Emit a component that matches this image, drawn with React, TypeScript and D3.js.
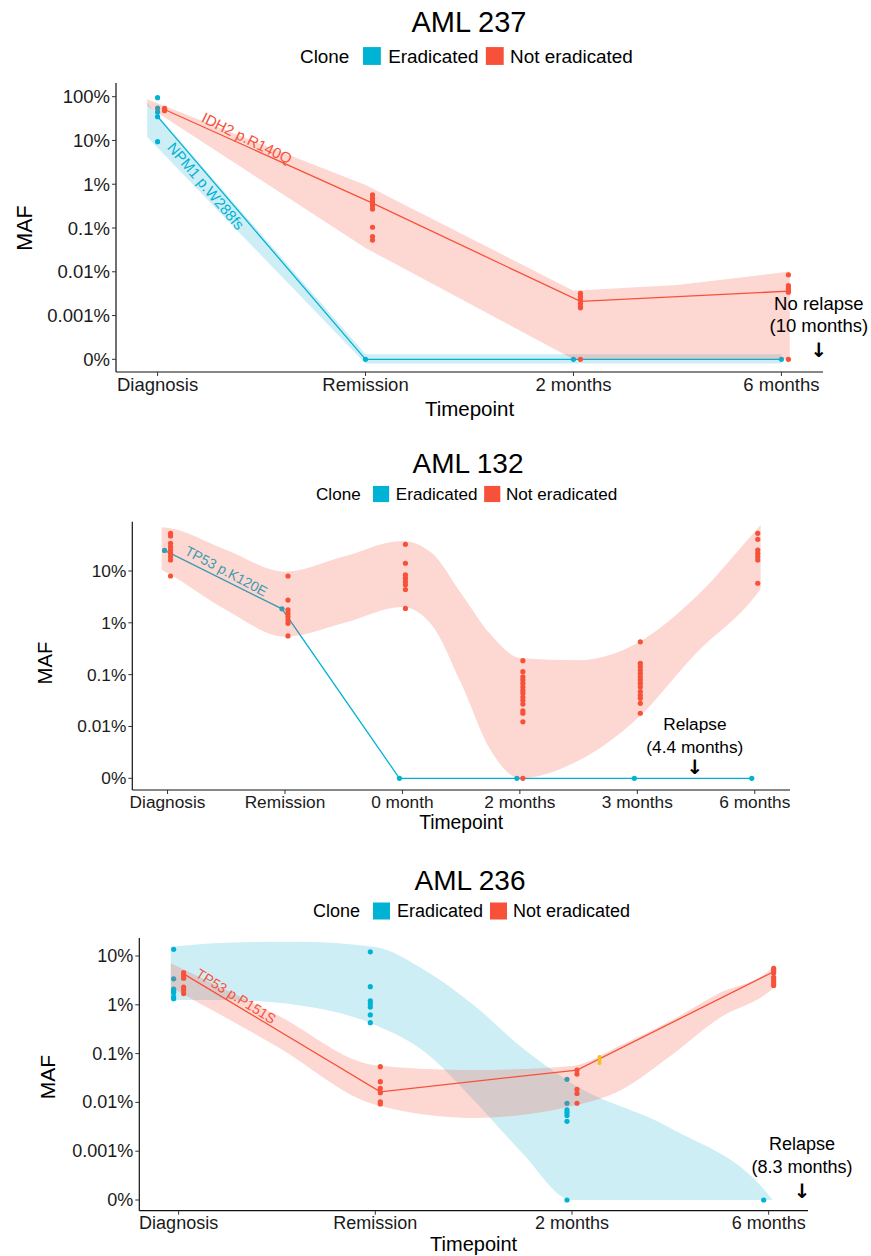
import React from "react";
import * as d3 from "d3";

const FONT = "'Liberation Sans', Arial, Helvetica, sans-serif";
const CYAN = "#00B3D5";
const RED = "#F8513A";
const YELLOW = "#F2C21B";

type Pt = [number, number]; // [timepoint index, MAF %]
type Band = [number, number, number]; // [timepoint position, lower %, upper %]

// ---------- AML 237 ----------
const aml237Timepoints = ["Diagnosis", "Remission", "2 months", "6 months"];
const aml237YTicks = [100, 10, 1, 0.1, 0.01, 0.001, 0];
const aml237YLabels = ["100%", "10%", "1%", "0.1%", "0.01%", "0.001%", "0%"];
const aml237ErPoints: Pt[] = [[0, 95], [0, 55], [0, 45], [0, 35], [0, 9.4], [1, 0], [2, 0], [3, 0]];
const aml237NePoints: Pt[] = [
  [0, 48], [0, 51], [0, 54],
  [1, 0.57], [1, 0.48], [1, 0.42], [1, 0.37], [1, 0.32], [1, 0.27], [1, 0.104], [1, 0.064], [1, 0.053],
  [2, 0.0032], [2, 0.0027], [2, 0.0023], [2, 0.0019], [2, 0.0016], [2, 0.0015], [2, 0],
  [3, 0.0085], [3, 0.0048], [3, 0.0042], [3, 0.0037], [3, 0.0034], [3, 0],
];
const aml237ErLine: Pt[] = [[0, 35], [1, 0], [2, 0], [3, 0]];
const aml237NeLine: Pt[] = [[0, 51], [1, 0.37], [2, 0.0021], [3, 0.0036]];
const aml237ErBand: Band[] = [[-0.05, 12, 72], [1, 0.00008, 0.00013], [3, 0.00008, 0.00013]];
const aml237NeBand: Band[] = [[-0.05, 61, 87], [1, 0.035, 0.96], [2, 0, 0.0037], [2.5, 0, 0.005], [3.04, 0, 0.0101]];

// ---------- AML 132 ----------
const aml132Timepoints = ["Diagnosis", "Remission", "0 month", "2 months", "3 months", "6 months"];
const aml132YTicks = [10, 1, 0.1, 0.01, 0];
const aml132YLabels = ["10%", "1%", "0.1%", "0.01%", "0%"];
const aml132ErPoints: Pt[] = [[0, 25], [1, 1.86], [2, 0], [3, 0], [4, 0], [5, 0]];
const aml132NePoints: Pt[] = [
  [0, 53.4], [0, 47.4], [0, 34.3], [0, 29.4], [0, 25.4], [0, 22], [0, 18.9], [0, 16.3], [0, 8],
  [1, 8], [1, 2.75], [1, 1.77], [1, 1.52], [1, 1.31], [1, 1.13], [1, 0.98], [1, 0.56],
  [2, 32.7], [2, 14.1], [2, 8.4], [2, 7.2], [2, 6.2], [2, 5.4], [2, 4.4], [2, 1.9],
  [3, 0.186], [3, 0.114], [3, 0.091], [3, 0.079], [3, 0.068], [3, 0.058], [3, 0.05], [3, 0.044],
  [3, 0.037], [3, 0.032], [3, 0.027], [3, 0.02], [3, 0.018], [3, 0.0123], [3, 0],
  [4, 0.43], [4, 0.165], [4, 0.142], [4, 0.123], [4, 0.106], [4, 0.091], [4, 0.079], [4, 0.068],
  [4, 0.058], [4, 0.047], [4, 0.04], [4, 0.035], [4, 0.028], [4, 0.018],
  [5, 53.4], [5, 40.9], [5, 25.4], [5, 22], [5, 18.9], [5, 16.3], [5, 5.8],
];
const aml132ErLine: Pt[] = [[0, 25], [1, 1.86], [2, 0], [3, 0], [4, 0], [5, 0]];
const aml132NeBand: Band[] = [
  [-0.05, 10.5, 70], [0, 9.1, 68], [0.5, 1.77, 25.4], [1, 0.54, 9.7], [1.5, 0.99, 19],
  [2, 2.02, 37.9], [2.25, 0.91, 22.3], [2.5, 0.068, 3.7], [2.75, 0.0035, 0.6], [3, 0.001, 0.21],
  [3.5, 0.0022, 0.19], [4, 0.0143, 0.41], [4.5, 0.26, 3.19], [5, 3.19, 57.4], [5.05, 4.5, 77],
];

// ---------- AML 236 ----------
const aml236Timepoints = ["Diagnosis", "Remission", "2 months", "6 months"];
const aml236YTicks = [10, 1, 0.1, 0.01, 0.001, 0];
const aml236YLabels = ["10%", "1%", "0.1%", "0.01%", "0.001%", "0%"];
const aml236ErPoints: Pt[] = [
  [0, 13.7], [0, 3.4], [0, 2.1], [0, 1.9], [0, 1.77], [0, 1.46], [0, 1.33],
  [1, 12.2], [1, 2.35], [1, 1.2], [1, 1.05], [1, 0.9], [1, 0.62], [1, 0.43],
  [2, 0.0297], [2, 0.0096], [2, 0.007], [2, 0.0062], [2, 0.0054], [2, 0.0041], [2, 0],
  [3, 0],
];
const aml236NePoints: Pt[] = [
  [0, 4.55], [0, 4.0], [0, 3.5], [0, 2.3], [0, 2.0], [0, 1.7],
  [1, 0.054], [1, 0.0266], [1, 0.0193], [1, 0.0158], [1, 0.0103], [1, 0.0093],
  [2, 0.046], [2, 0.038], [2, 0.0185], [2, 0.0153], [2, 0.0096],
  [3, 5.6], [3, 5.0], [3, 4.5], [3, 3.65], [3, 3.2], [3, 2.8], [3, 2.5],
];
const aml236NeLine: Pt[] = [[0, 4.3], [1, 0.0165], [2, 0.046], [3, 4.76]];
const aml236OtherPoints: Pt[] = [[2.14, 0.085], [2.14, 0.074], [2.14, 0.064]];
const aml236ErBand: Band[] = [
  [-0.04, 1.25, 15.5], [0.25, 1.25, 18.7], [0.6, 0.99, 19.6], [1, 0.385, 15.3], [1.25, 0.109, 5.17],
  [1.5, 0.0112, 0.99], [1.75, 0.00089, 0.128], [2, 0, 0.0245], [2.5, 0, 0.003], [3, 0, 0.000127], [3.02, 0, 0.0001],
];
const aml236NeBand: Band[] = [
  [-0.04, 2.3, 7.08], [0.5, 0.139, 0.62], [1, 0.0089, 0.058], [1.5, 0.0048, 0.046], [2, 0.0084, 0.056],
  [2.25, 0.018, 0.15], [2.5, 0.089, 0.466], [2.75, 0.537, 1.75], [3, 1.83, 4.93], [3.03, 2.32, 6.54],
];

interface Label { text: string; u: number; v: number; angle: number; color: string; size: number }

interface PanelCfg {
  title: string; titleX: number; titleY: number; titleSize: number;
  legendX: number; legendY: number; legendScale: number;
  timepoints: string[]; yTicks: number[]; yLabels: string[];
  left: number; right: number; plotTop: number; axisY: number;
  expand: number; zero: number; yTop: number; yTopPx: number; yZeroPx: number;
  erOffset: number; neOffset: number;
  erPoints: Pt[]; nePoints: Pt[]; erLine?: Pt[]; neLine?: Pt[];
  erBand?: Band[]; neBand?: Band[]; other?: Pt[]; smooth: boolean;
  erLabel?: Label; neLabel?: Label;
  note: { lines: string[]; u: number; dy: number[]; arrowDy: number };
  tickSize: number; xLabelY: number; xTitleY: number; mafX: number; mafY: number;
}

const panels: PanelCfg[] = [
  {
    title: "AML 237", titleX: 469, titleY: 32, titleSize: 29,
    legendX: 300, legendY: 56, legendScale: 1.05,
    timepoints: aml237Timepoints, yTicks: aml237YTicks, yLabels: aml237YLabels,
    left: 116, right: 823, plotTop: 83, axisY: 372,
    expand: 0.2, zero: 1e-4, yTop: 100, yTopPx: 96.7, yZeroPx: 359.3,
    erOffset: 0, neOffset: 7,
    erPoints: aml237ErPoints, nePoints: aml237NePoints, erLine: aml237ErLine, neLine: aml237NeLine,
    erBand: aml237ErBand, neBand: aml237NeBand, smooth: false,
    erLabel: { text: "NPM1 p.W288fs", u: 0.233, v: 0.914, angle: 49.5, color: CYAN, size: 15 },
    neLabel: { text: "IDH2 p.R140Q", u: 0.43, v: 11.4, angle: 26, color: RED, size: 15 },
    note: { lines: ["No relapse", "(10 months)"], u: 3.18, dy: [-49, -27], arrowDy: -9 },
    tickSize: 18.5, xLabelY: 391, xTitleY: 416, mafX: 25, mafY: 228,
  },
  {
    title: "AML 132", titleX: 468, titleY: 473, titleSize: 28,
    legendX: 316, legendY: 494, legendScale: 0.95,
    timepoints: aml132Timepoints, yTicks: aml132YTicks, yLabels: aml132YLabels,
    left: 132.3, right: 790, plotTop: 521.7, axisY: 790,
    expand: 0.3, zero: 1e-3, yTop: 10, yTopPx: 571, yZeroPx: 778.3,
    erOffset: -3, neOffset: 3,
    erPoints: aml132ErPoints, nePoints: aml132NePoints, erLine: aml132ErLine,
    neBand: aml132NeBand, smooth: true,
    erLabel: { text: "TP53 p.K120E", u: 0.5, v: 10, angle: 28, color: CYAN, size: 14 },
    note: { lines: ["Relapse", "(4.4 months)"], u: 4.49, dy: [-48, -25], arrowDy: -11 },
    tickSize: 17.3, xLabelY: 808, xTitleY: 829, mafX: 45, mafY: 663,
  },
  {
    title: "AML 236", titleX: 470, titleY: 890, titleSize: 28,
    legendX: 313, legendY: 911, legendScale: 1,
    timepoints: aml236Timepoints, yTicks: aml236YTicks, yLabels: aml236YLabels,
    left: 139.3, right: 808, plotTop: 938, axisY: 1210.7,
    expand: 0.2, zero: 1e-4, yTop: 10, yTopPx: 956, yZeroPx: 1200,
    erOffset: -5, neOffset: 5,
    erPoints: aml236ErPoints, nePoints: aml236NePoints, neLine: aml236NeLine,
    erBand: aml236ErBand, neBand: aml236NeBand, other: aml236OtherPoints, smooth: true,
    neLabel: { text: "TP53 p.P151S", u: 0.292, v: 1.51, angle: 32, color: RED, size: 14 },
    note: { lines: ["Relapse", "(8.3 months)"], u: 3.17, dy: [-50, -27], arrowDy: -9 },
    tickSize: 18, xLabelY: 1229, xTitleY: 1251, mafX: 47, mafY: 1077,
  },
];

function Panel({ c }: { c: PanelCfg }) {
  const x = d3.scaleLinear()
    .domain([-c.expand, c.timepoints.length - 1 + c.expand])
    .range([c.left, c.right]);
  const y = d3.scaleLog().domain([c.zero, c.yTop]).range([c.yZeroPx, c.yTopPx]);
  const yv = (p: number) => y(p <= 0 ? c.zero : p);

  const area = d3.area<Band>()
    .x((d) => x(d[0]))
    .y0((d) => yv(d[1]))
    .y1((d) => yv(d[2]))
    .curve(c.smooth ? d3.curveMonotoneX : d3.curveLinear);
  const lineAt = (off: number) => d3.line<Pt>().x((d) => x(d[0]) + off).y((d) => yv(d[1]));

  const label = (l?: Label) => l && (
    <text
      transform={`translate(${x(l.u)},${yv(l.v)}) rotate(${l.angle})`}
      textAnchor="middle" dominantBaseline="central"
      fill={l.color} fontSize={l.size}
    >{l.text}</text>
  );

  const L = c.legendScale;
  const lx = c.legendX;
  const sq = 17 * L;
  const zeroY = yv(0);

  return (
    <g fontFamily={FONT}>
      {/* eradicated clone */}
      {c.erBand && <path d={area(c.erBand) || ""} fill="#0AA8D0" fillOpacity={0.2} />}
      {c.erLine && <path d={lineAt(c.erOffset)(c.erLine) || ""} fill="none" stroke={CYAN} strokeWidth={1.3} />}
      {c.erPoints.map((d, i) => (
        <circle key={"e" + i} cx={x(d[0]) + c.erOffset} cy={yv(d[1])} r={2.6} fill={CYAN} />
      ))}
      {label(c.erLabel)}

      {/* not eradicated clone */}
      {c.neBand && <path d={area(c.neBand) || ""} fill={RED} fillOpacity={0.23} />}
      {c.neLine && <path d={lineAt(c.neOffset)(c.neLine) || ""} fill="none" stroke={RED} strokeWidth={1.3} />}
      {c.nePoints.map((d, i) => (
        <circle key={"n" + i} cx={x(d[0]) + c.neOffset} cy={yv(d[1])} r={2.6} fill={RED} />
      ))}
      {label(c.neLabel)}
      {c.other && c.other.map((d, i) => (
        <circle key={"o" + i} cx={x(d[0])} cy={yv(d[1])} r={2} fill={YELLOW} />
      ))}

      {/* axes */}
      <line x1={c.left} x2={c.left} y1={c.plotTop} y2={c.axisY} stroke="#111" strokeWidth={1.2} />
      <line x1={c.left} x2={c.right} y1={c.axisY} y2={c.axisY} stroke="#111" strokeWidth={1.2} />
      {c.yTicks.map((t, i) => (
        <g key={"yt" + i}>
          <line x1={c.left - 4} x2={c.left} y1={yv(t)} y2={yv(t)} stroke="#333" />
          <text x={c.left - 6} y={yv(t)} textAnchor="end" dominantBaseline="central"
            fontSize={c.tickSize} fill="#1a1a1a">{c.yLabels[i]}</text>
        </g>
      ))}
      {c.timepoints.map((t, i) => (
        <g key={"xt" + i}>
          <line x1={x(i)} x2={x(i)} y1={c.axisY} y2={c.axisY + 4} stroke="#333" />
          <text x={x(i)} y={c.xLabelY} textAnchor="middle" fontSize={c.tickSize} fill="#1a1a1a">{t}</text>
        </g>
      ))}
      <text x={(c.left + c.right) / 2} y={c.xTitleY} textAnchor="middle" fontSize={c.tickSize + 2}>Timepoint</text>
      <text transform={`translate(${c.mafX},${c.mafY}) rotate(-90)`} textAnchor="middle"
        dominantBaseline="central" fontSize={c.tickSize + 3}>MAF</text>

      {/* relapse note */}
      {c.note.lines.map((s, i) => (
        <text key={"nt" + i} x={x(c.note.u)} y={zeroY + c.note.dy[i]} textAnchor="middle"
          fontSize={c.tickSize}>{s}</text>
      ))}
      <text x={x(c.note.u)} y={zeroY + c.note.arrowDy} textAnchor="middle" dominantBaseline="central"
        fontFamily="'DejaVu Sans', sans-serif" fontWeight="bold" fontSize={20}>↓</text>

      {/* title and legend */}
      <text x={c.titleX} y={c.titleY} textAnchor="middle" fontSize={c.titleSize}>{c.title}</text>
      <text x={lx} y={c.legendY} dominantBaseline="central" fontSize={18 * L}>Clone</text>
      <rect x={lx + 60 * L} y={c.legendY - sq / 2} width={sq} height={sq} fill={CYAN} />
      <text x={lx + 84 * L} y={c.legendY} dominantBaseline="central" fontSize={18 * L}>Eradicated</text>
      <rect x={lx + 177 * L} y={c.legendY - sq / 2} width={sq} height={sq} fill={RED} />
      <text x={lx + 200 * L} y={c.legendY} dominantBaseline="central" fontSize={18 * L}>Not eradicated</text>
    </g>
  );
}

export default function App() {
  return (
    <svg width={871} height={1256} style={{ position: "absolute", left: 0, top: 0, background: "#fff" }}>
      <rect width={871} height={1256} fill="#fff" />
      {panels.map((p) => <Panel key={p.title} c={p} />)}
    </svg>
  );
}
